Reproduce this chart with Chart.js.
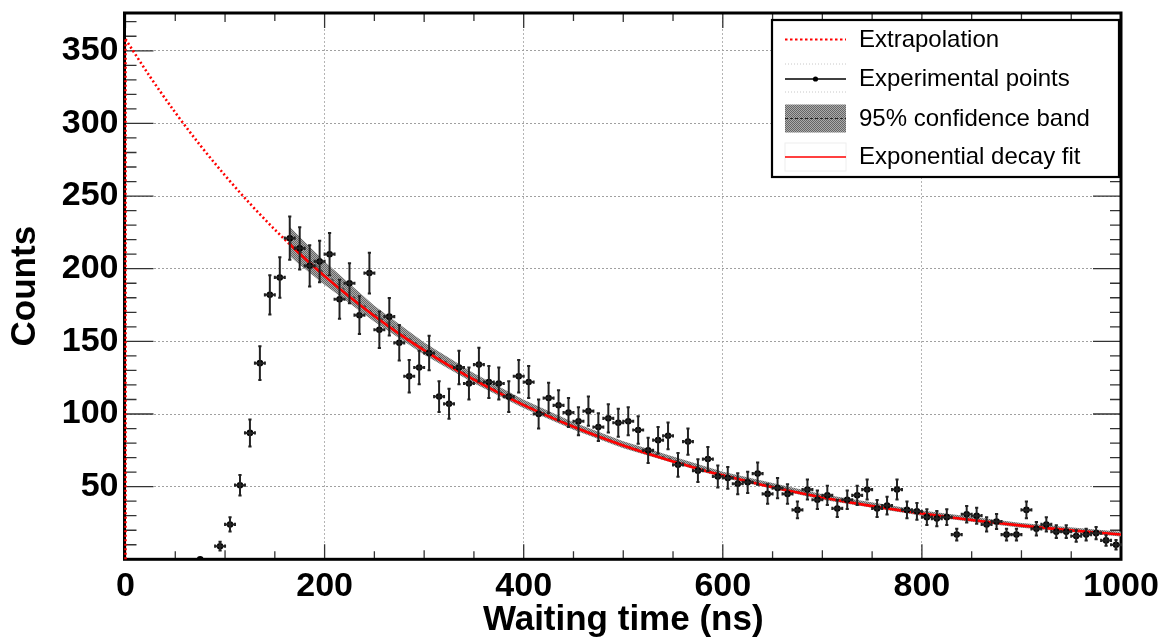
<!DOCTYPE html>
<html>
<head>
<meta charset="utf-8">
<script src="https://cdn.jsdelivr.net/npm/chart.js@4.4.0/dist/chart.umd.min.js"></script>
<style>
html,body{margin:0;padding:0;background:#fff;}
#wrap{width:1164px;height:641px;position:relative;}
</style>
</head>
<body>
<div id="wrap"><canvas id="c"></canvas></div>
<script>
// ---------------- DATA ----------------
const binCenters = [75,95,105,115,125,135,145,155,165,175,185,195,205,215,225,235,245,255,265,275,285,295,305,315,325,335,345,355,365,375,385,395,405,415,425,435,445,455,465,475,485,495,505,515,525,535,545,555,565,575,585,595,605,615,625,635,645,655,665,675,685,695,705,715,725,735,745,755,765,775,785,795,805,815,825,835,845,855,865,875,885,895,905,915,925,935,945,955,965,975,985,995];
const counts = [0,9,24,51,87,135,182,194,221,214,202,205,210,179,190,168,197,158,167,149,126,132,142,112,107,132,121,134,122,121,112,126,122,100,111,106,101,95,102,91,97,94,95,89,75,82,85,65,81,61,69,57,56,52,53,59,45,49,45,34,48,41,44,35,41,44,48,35,37,48,34,33,29,28,29,17,31,30,24,26,17,17,34,21,24,19,19,16,17,18,13,10];
const countErrors = [0,3.0,4.9,7.1,9.3,11.6,13.5,13.9,14.9,14.6,14.2,14.3,14.5,13.4,13.8,13.0,14.0,12.6,12.9,12.2,11.2,11.5,11.9,10.6,10.3,11.5,11.0,11.6,11.0,11.0,10.6,11.2,11.0,10.0,10.5,10.3,10.0,9.7,10.1,9.5,9.8,9.7,9.7,9.4,8.7,9.1,9.2,8.1,9.0,7.8,8.3,7.5,7.5,7.2,7.3,7.7,6.7,7.0,6.7,5.8,6.9,6.4,6.6,5.9,6.4,6.6,6.9,5.9,6.1,6.9,5.8,5.7,5.4,5.3,5.4,4.1,5.6,5.5,4.9,5.1,4.1,4.1,5.8,4.6,4.9,4.4,4.4,4.0,4.1,4.2,3.6,3.2];
const binHalfWidth = 5;

const fitT = [165,175,200,225,250,275,300,325,350,375,400,425,450,475,500,525,550,575,600,625,650,675,700,725,750,775,800,825,850,875,900,925,950,975,1000];
const fitValues = [216.8,210.3,194.9,180.7,167.5,155.2,143.8,133.3,123.6,114.5,106.1,98.4,91.2,84.5,78.3,72.6,67.3,62.4,57.8,53.6,49.6,46.0,42.6,39.5,36.6,34.0,31.5,29.2,27.0,25.1,23.2,21.5,19.9,18.5,17.1];

const extrapT = [0,25,50,75,100,125,150,165];
const extrapValues = [358,331.8,307.5,285.0,264.2,244.8,226.9,216.8];
const extrapAxisT = [0,0];
const extrapAxisValues = [0,358];

const bandT = [165,175,200,250,300,350,400,450,500,600,700,800,900,1000];
const bandHigh = [228.8,221.8,204.9,174.5,149.3,128.0,109.8,94.4,81.2,60.3,44.8,33.6,25.0,18.9];
const bandMid = [218.8,212.3,196.9,169.0,145.0,124.6,106.9,91.8,78.8,58.2,42.9,31.8,23.4,17.3];
const bandLow = [208.8,202.8,188.9,163.5,140.7,121.2,104.0,89.2,76.4,56.1,41.0,30.0,21.8,15.7];

const xTickValues = [0,200,400,600,800,1000];
const yTickValues = [50,100,150,200,250,300,350];
const legendLabels = ['Extrapolation','Experimental points','95% confidence band','Exponential decay fit'];

// ---------------- HELPERS ----------------
const zip = (xs, ys) => xs.map((x, i) => ({x: x, y: ys[i]}));
const FONT = "'Liberation Sans', Arial, Helvetica, sans-serif";

function makePattern() {
  const c = document.createElement('canvas');
  c.width = 2; c.height = 2;
  const g = c.getContext('2d');
  g.fillStyle = '#acacac'; g.fillRect(0,0,2,2);
  g.fillStyle = '#666666'; g.fillRect(0,0,1,1); g.fillRect(1,1,1,1);
  return g.createPattern(c, 'repeat');
}
const bandPattern = makePattern();

// frame + inside ticks (ROOT style)
const framePlugin = {
  id: 'frameTicks',
  beforeDatasetsDraw(chart) {
    const ctx = chart.ctx, a = chart.chartArea;
    const xs = chart.scales.x, ys = chart.scales.y;
    ctx.save();
    ctx.strokeStyle = '#333';
    ctx.lineWidth = 1.3;
    ctx.beginPath();
    for (let v = 10; v <= 370; v += 10) {
      const y = ys.getPixelForValue(v);
      const len = (v % 50 === 0) ? 28 : 11;
      ctx.moveTo(a.left, y); ctx.lineTo(a.left + len, y);
      ctx.moveTo(a.right, y); ctx.lineTo(a.right - len, y);
    }
    for (let v = 0; v <= 1000; v += 50) {
      const x = xs.getPixelForValue(v);
      const len = (v % 200 === 0) ? 15 : ((v % 100 === 0) ? 9 : 8);
      ctx.moveTo(x, a.bottom); ctx.lineTo(x, a.bottom - len);
      ctx.moveTo(x, a.top); ctx.lineTo(x, a.top + len);
    }
    ctx.stroke();
    ctx.strokeStyle = '#000';
    ctx.lineWidth = 3;
    ctx.strokeRect(a.left - 1, a.top, a.right - a.left + 1, a.bottom - a.top);
    ctx.restore();
  }
};

// error bars
const errorBarPlugin = {
  id: 'errorBars',
  afterDatasetsDraw(chart) {
    const ctx = chart.ctx;
    const xs = chart.scales.x, ys = chart.scales.y;
    ctx.save();
    ctx.strokeStyle = '#222';
    ctx.lineWidth = 2;
    ctx.beginPath();
    for (let i = 0; i < binCenters.length; i++) {
      const e = countErrors[i];
      if (!(e > 0)) continue;
      const x = xs.getPixelForValue(binCenters[i]);
      const y = ys.getPixelForValue(counts[i]);
      const y1 = ys.getPixelForValue(counts[i] - e);
      const y2 = ys.getPixelForValue(counts[i] + e);
      const x1 = xs.getPixelForValue(binCenters[i] - binHalfWidth);
      const x2 = xs.getPixelForValue(binCenters[i] + binHalfWidth);
      ctx.moveTo(x, y1); ctx.lineTo(x, y2);
      ctx.moveTo(x - 1.6, y1); ctx.lineTo(x + 1.6, y1);
      ctx.moveTo(x - 1.6, y2); ctx.lineTo(x + 1.6, y2);
      ctx.moveTo(x1, y); ctx.lineTo(x2, y);
      ctx.moveTo(x1, y - 1.6); ctx.lineTo(x1, y + 1.6);
      ctx.moveTo(x2, y - 1.6); ctx.lineTo(x2, y + 1.6);
    }
    ctx.stroke();
    ctx.restore();
  }
};

// legend box (ROOT TLegend style)
const legendPlugin = {
  id: 'boxLegend',
  afterDraw(chart) {
    const ctx = chart.ctx;
    const bx = 772, by = 20, bw = 347, bh = 157;
    ctx.save();
    ctx.fillStyle = '#fff';
    ctx.fillRect(bx, by, bw, bh);
    ctx.strokeStyle = '#000';
    ctx.lineWidth = 2.2;
    ctx.strokeRect(bx, by, bw, bh);
    const rows = [39.5, 79, 118.5, 157];
    const sx0 = 785, sx1 = 846;
    // Extrapolation
    ctx.strokeStyle = '#ff0000'; ctx.lineWidth = 2; ctx.setLineDash([2.5,2.5]);
    ctx.beginPath(); ctx.moveTo(sx0, rows[0]); ctx.lineTo(sx1, rows[0]); ctx.stroke();
    // Experimental points
    ctx.strokeStyle = '#c8c8c8'; ctx.lineWidth = 1; ctx.setLineDash([1,2]);
    ctx.beginPath();
    ctx.moveTo(sx0, rows[1]-15); ctx.lineTo(sx1, rows[1]-15);
    ctx.moveTo(sx0, rows[1]+13); ctx.lineTo(sx1, rows[1]+13);
    ctx.stroke();
    ctx.setLineDash([]);
    ctx.strokeStyle = '#000'; ctx.lineWidth = 1.3;
    ctx.beginPath(); ctx.moveTo(sx0, rows[1]); ctx.lineTo(sx1, rows[1]); ctx.stroke();
    ctx.fillStyle = '#000';
    ctx.beginPath(); ctx.arc((sx0+sx1)/2, rows[1], 2.6, 0, Math.PI*2); ctx.fill();
    // Band
    ctx.fillStyle = bandPattern;
    ctx.fillRect(sx0, rows[2]-14, sx1-sx0, 28);
    ctx.strokeStyle = '#222'; ctx.lineWidth = 1; ctx.setLineDash([3,2]);
    ctx.beginPath(); ctx.moveTo(sx0, rows[2]); ctx.lineTo(sx1, rows[2]); ctx.stroke();
    ctx.setLineDash([]);
    // Fit
    ctx.strokeStyle = '#eeeeee'; ctx.lineWidth = 1;
    ctx.strokeRect(sx0, rows[3]-14, sx1-sx0, 28);
    ctx.strokeStyle = '#ff0000'; ctx.lineWidth = 1.4;
    ctx.beginPath(); ctx.moveTo(sx0, rows[3]); ctx.lineTo(sx1, rows[3]); ctx.stroke();
    // Texts
    ctx.fillStyle = '#000';
    ctx.font = '24px ' + FONT;
    ctx.textBaseline = 'middle';
    ctx.textAlign = 'left';
    legendLabels.forEach((t, i) => ctx.fillText(t, 859, rows[i] + 0.5));
    ctx.restore();
  }
};

// ---------------- CHART ----------------
new Chart(document.getElementById('c'), {
  type: 'scatter',
  data: {
    datasets: [
      { label: 'bandLow', data: zip(bandT, bandLow), showLine: true, pointRadius: 0, borderWidth: 0, fill: false, order: 6 },
      { label: '95% confidence band', data: zip(bandT, bandHigh), showLine: true, pointRadius: 0, borderWidth: 0,
        fill: '-1', backgroundColor: bandPattern, order: 5 },
      { label: 'bandMid', data: zip(bandT, bandMid), showLine: true, pointRadius: 0, borderWidth: 1,
        borderColor: 'rgba(20,20,20,0.7)', borderDash: [3,4], order: 4 },
      { label: 'Exponential decay fit', data: zip(fitT, fitValues), showLine: true, pointRadius: 0,
        borderWidth: 2.6, borderColor: '#ff0000', cubicInterpolationMode: 'monotone', order: 3 },
      { label: 'Extrapolation', data: zip(extrapT, extrapValues), showLine: true, pointRadius: 0,
        borderWidth: 2.6, borderColor: '#ff0000', borderDash: [2,2.5], cubicInterpolationMode: 'monotone', clip: false, order: 2 },
      { label: 'Extrapolation axis', data: zip(extrapAxisT, extrapAxisValues), showLine: true, pointRadius: 0,
        borderWidth: 2.6, borderColor: '#ff0000', borderDash: [2,2.5], clip: false, order: 2 },
      { label: 'Experimental points', data: zip(binCenters, counts), showLine: false, pointRadius: 3.3,
        pointStyle: 'circle', backgroundColor: '#000', borderColor: '#000', borderWidth: 0, order: 1 }
    ]
  },
  options: {
    responsive: true,
    maintainAspectRatio: false,
    animation: false,
    events: [],
    layout: { padding: { top: 13, right: 43, left: 0, bottom: 0 } },
    plugins: { legend: { display: false }, tooltip: { enabled: false } },
    scales: {
      x: {
        type: 'linear', min: 0, max: 1000,
        afterBuildTicks: s => { s.ticks = xTickValues.map(v => ({ value: v })); },
        afterFit: s => { s.height = 81.7; s.paddingLeft = 0; s.paddingRight = 0; },
        grid: { color: '#b4b4b4', lineWidth: 1, drawTicks: false },
        border: { display: false, dash: [2, 2] },
        ticks: { padding: 7, color: '#000', autoSkip: false, maxRotation: 0,
                 callback: v => String(v),
                 font: { family: FONT, size: 34, weight: 'bold' } },
        title: { display: true, text: 'Waiting time (ns)', color: '#000',
                 font: { family: FONT, size: 35, weight: 'bold' }, padding: { top: 0, bottom: 0 } }
      },
      y: {
        type: 'linear', min: 0, max: 376,
        afterBuildTicks: s => { s.ticks = yTickValues.map(v => ({ value: v })); },
        afterFit: s => { s.width = 125.5; s.paddingTop = 0; s.paddingBottom = 0; },
        grid: { color: '#a0a0a0', lineWidth: 1, drawTicks: false },
        border: { display: false, dash: [2, 2] },
        ticks: { padding: 7, color: '#000', autoSkip: false,
                 callback: v => String(v),
                 font: { family: FONT, size: 34, weight: 'bold' } },
        title: { display: true, text: 'Counts', color: '#000',
                 font: { family: FONT, size: 35, weight: 'bold' }, padding: { top: 4, bottom: 0 } }
      }
    }
  },
  plugins: [framePlugin, errorBarPlugin, legendPlugin]
});
</script>
</body>
</html>
